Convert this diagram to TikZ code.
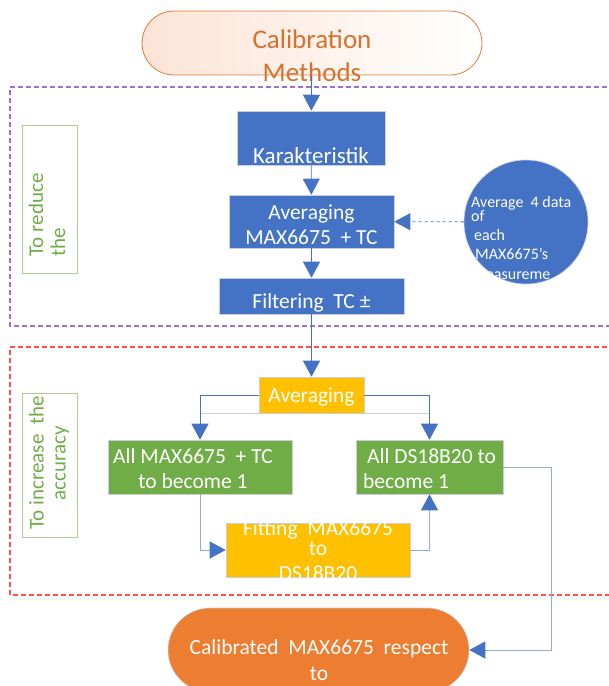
\documentclass[tikz,border=0pt]{standalone}
\usepackage{fontspec}
\setmainfont{Carlito}
\usetikzlibrary{arrows.meta,positioning}

\definecolor{mainblue}{HTML}{4472C4}
\definecolor{softblue}{HTML}{8FAADC}
\definecolor{leafgreen}{HTML}{70AD47}
\definecolor{notegreen}{HTML}{A9D18E}
\definecolor{sunyellow}{HTML}{FFC000}
\definecolor{fireorange}{HTML}{ED7D31}
\definecolor{titleorange}{HTML}{E07B3A}
\definecolor{titletext}{HTML}{D8702E}
\definecolor{titlepink}{HTML}{FCE4D6}
\definecolor{boxedge}{HTML}{C9CED8}
\definecolor{framepurple}{HTML}{9D6FD6}
\definecolor{framered}{HTML}{FF4F4F}

\begin{document}
\begin{tikzpicture}[x=1pt,y=-1pt,
    flowbox/.style={rectangle, draw=boxedge, line width=0.6pt, inner sep=0pt},
    bluebox/.style={flowbox, fill=mainblue},
    greenbox/.style={flowbox, fill=leafgreen},
    yellowbox/.style={flowbox, fill=sunyellow},
    boxtext/.style={text=white, font=\fontsize{21.5}{25}\selectfont, align=center, inner sep=0pt},
    circletext/.style={text=white, font=\fontsize{16}{19}\selectfont, anchor=base west, inner sep=0pt},
    flow/.style={draw=mainblue, line width=0.8pt, -{Triangle[width=17pt,length=16pt]}},
    softflow/.style={draw=softblue, line width=0.9pt, -{Triangle[width=17pt,length=16pt,color=mainblue]}},
    frame/.style={line width=1.1pt, dash pattern=on 5pt off 3pt},
    sidenote/.style={draw=notegreen, line width=0.8pt, minimum width=55, minimum height=148},
    notetext/.style={text=leafgreen, font=\fontsize{21}{22}\selectfont, rotate=90, inner sep=0pt}
]
\useasboundingbox (0,0) rectangle (609,686);

% dashed frames
\draw[frame, draw=framepurple] (615,87) -- (10,87) -- (10,326) -- (615,326);
\draw[frame, draw=framered] (615,347) -- (10,347) -- (10,595) -- (615,595);

% side notes
\node[sidenote] (reducebox) at (49.5,199) {};
\node[notetext, align=left] (reducetext) at (47,215) {To reduce\\the};
\node[sidenote, minimum height=144] (accbox) at (49.5,465) {};
\node[notetext, align=center] (acctext) at (49,463) {To increase~ the\\accuracy};

% title
\node[draw=titleorange, line width=0.8pt, left color=titlepink, right color=white,
      rounded corners=32pt, minimum width=340, minimum height=64] (start) at (312,43) {};
\node[text=titletext, font=\fontsize{27}{33}\selectfont, align=center, inner sep=0pt] (starttext) at (312,56) {Calibration\\Methods};

% first stage
\node[bluebox, minimum width=148, minimum height=54] (karak) at (311,138) {};
\node[boxtext, font=\fontsize{23}{25}\selectfont] (karaktext) at (311,156) {Karakteristik};
\node[bluebox, minimum width=165, minimum height=53] (avgone) at (311.5,221.5) {};
\node[boxtext] (avgonetext) at (311.5,225) {Averaging\\MAX6675~ + TC};
\node[bluebox, minimum width=185, minimum height=36] (filter) at (311.5,296) {};
\node[boxtext] (filtertext) at (311.5,303) {Filtering~ TC ±};
\node[circle, fill=mainblue, draw=boxedge, line width=0.6pt, minimum size=124] (note) at (526,222) {};
\foreach \txt/\xpos/\ypos [count=\i] in {Average~ 4 data/471/207, of/471/221, each/474/240, MAX6675's/475/259, measureme/473/279}
    \node[circletext] (noteline\i) at (\xpos,\ypos) {\txt};

% second stage
\node[yellowbox, minimum width=105, minimum height=36] (avgtwo) at (311.5,395) {};
\node[boxtext] (avgtwotext) at (311.5,397) {Averaging};
\node[greenbox, minimum width=184, minimum height=54] (allmax) at (200,467) {};
\node[boxtext] (allmaxtext) at (193,469) {All MAX6675~ + TC\\to become 1};
\node[greenbox, minimum width=147, minimum height=54] (allds) at (429.5,467) {};
\node[boxtext, align=left, anchor=west] (alldstext) at (363,469) {\hspace{4pt}All DS18B20 to\\become 1};
\node[yellowbox, minimum width=184, minimum height=54] (fit) at (318,550) {};
\node[boxtext] (fittext) at (318,550.5) {Fitting~ MAX6675\\[-5pt]to\\DS18B20};

% result
\node[fill=fireorange, draw=boxedge, line width=0.6pt, rounded corners=42pt,
      minimum width=301, minimum height=84] (final) at (318.5,650) {};
\node[boxtext, font=\fontsize{21.5}{26}\selectfont] (finaltext) at (319,660.5) {Calibrated~ MAX6675~ respect\\to};

% connectors
\draw[flow] (start) -- (karak);
\draw[flow] (karak) -- (avgone);
\draw[flow, dashed] (note) -- (avgone);
\draw[flow] (avgone) -- (filter);
\draw[flow] (filter) -- (avgtwo);
\draw[draw=boxedge, line width=0.8pt] (allmax.north |- avgtwo.south) -- (allds.north |- avgtwo.south);
\draw[flow, line width=0.7pt] (avgtwo.west) -| (allmax.north);
\draw[flow, line width=0.7pt] (avgtwo.east) -| (allds.north);
\draw[softflow] (allmax.south) |- (fit.west);
\draw[softflow] (fit.east) -| (allds.south);
\coordinate (turn) at (551,467);
\draw[softflow] (allds.east) -- (turn) |- (final.east);
\end{tikzpicture}
\end{document}
